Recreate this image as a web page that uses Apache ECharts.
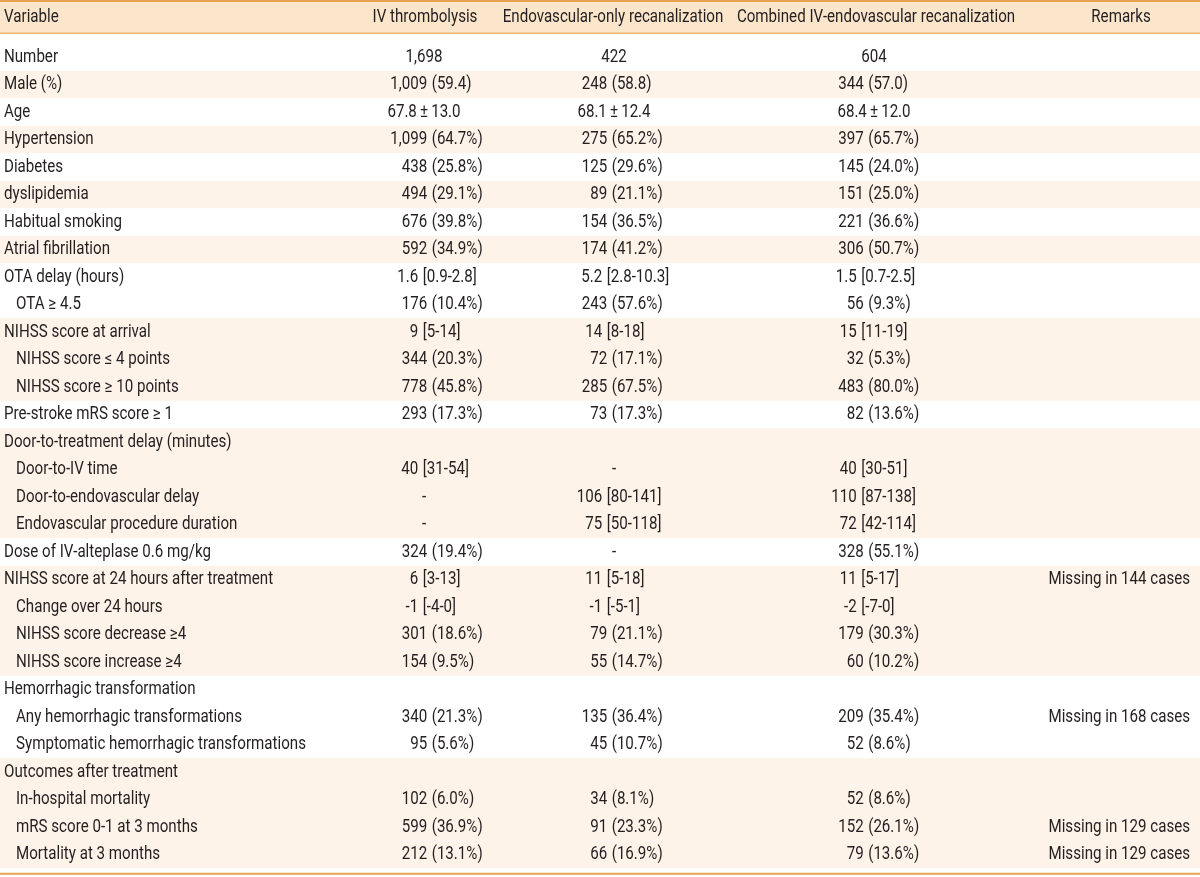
<!DOCTYPE html>
<html>
<head>
<meta charset="utf-8">
<script src="https://cdn.jsdelivr.net/npm/echarts@6/dist/echarts.min.js"></script>
<style>
html,body{margin:0;padding:0;background:#ffffff;}
#chart{width:1200px;height:877px;}
</style>
</head>
<body>
<div id="chart"></div>
<script>
// ---------- DATA ----------
const headers = ['Variable', 'IV thrombolysis', 'Endovascular-only recanalization', 'Combined IV-endovascular recanalization', 'Remarks'];

const variables = [
  'Number', 'Male (%)', 'Age', 'Hypertension', 'Diabetes', 'dyslipidemia',
  'Habitual smoking', 'Atrial fibrillation', 'OTA delay (hours)', 'OTA \u2265 4.5',
  'NIHSS score at arrival', 'NIHSS score \u2264 4 points', 'NIHSS score \u2265 10 points',
  'Pre-stroke mRS score \u2265 1', 'Door-to-treatment delay (minutes)', 'Door-to-IV time',
  'Door-to-endovascular delay', 'Endovascular procedure duration', 'Dose of IV-alteplase 0.6 mg/kg',
  'NIHSS score at 24 hours after treatment', 'Change over 24 hours', 'NIHSS score decrease \u22654',
  'NIHSS score increase \u22654', 'Hemorrhagic transformation', 'Any hemorrhagic transformations',
  'Symptomatic hemorrhagic transformations', 'Outcomes after treatment', 'In-hospital mortality',
  'mRS score 0-1 at 3 months', 'Mortality at 3 months'
];

const subItem = [
  0, 0, 0, 0, 0, 0, 0, 0, 0, 1,
  0, 1, 1, 0, 0, 1, 1, 1, 0, 0,
  1, 1, 1, 0, 1, 1, 0, 1, 1, 1
];

const ivValues = [
  '1,698', '1,009 (59.4)', '67.8\u2009\u00b1\u200913.0', '1,099 (64.7%)', '438 (25.8%)', '494 (29.1%)',
  '676 (39.8%)', '592 (34.9%)', '1.6 [0.9-2.8]', '176 (10.4%)',
  '9 [5-14]', '344 (20.3%)', '778 (45.8%)', '293 (17.3%)', '', '40 [31-54]',
  '-', '-', '324 (19.4%)', '6 [3-13]', '-1 [-4-0]', '301 (18.6%)',
  '154 (9.5%)', '', '340 (21.3%)', '95 (5.6%)', '', '102 (6.0%)',
  '599 (36.9%)', '212 (13.1%)'
];

const endoValues = [
  '422', '248 (58.8)', '68.1\u2009\u00b1\u200912.4', '275 (65.2%)', '125 (29.6%)', '89 (21.1%)',
  '154 (36.5%)', '174 (41.2%)', '5.2 [2.8-10.3]', '243 (57.6%)',
  '14 [8-18]', '72 (17.1%)', '285 (67.5%)', '73 (17.3%)', '', '-',
  '106 [80-141]', '75 [50-118]', '-', '11 [5-18]', '-1 [-5-1]', '79 (21.1%)',
  '55 (14.7%)', '', '135 (36.4%)', '45 (10.7%)', '', '34 (8.1%)',
  '91 (23.3%)', '66 (16.9%)'
];

const combinedValues = [
  '604', '344 (57.0)', '68.4\u2009\u00b1\u200912.0', '397 (65.7%)', '145 (24.0%)', '151 (25.0%)',
  '221 (36.6%)', '306 (50.7%)', '1.5 [0.7-2.5]', '56 (9.3%)',
  '15 [11-19]', '32 (5.3%)', '483 (80.0%)', '82 (13.6%)', '', '40 [30-51]',
  '110 [87-138]', '72 [42-114]', '328 (55.1%)', '11 [5-17]', '-2 [-7-0]', '179 (30.3%)',
  '60 (10.2%)', '', '209 (35.4%)', '52 (8.6%)', '', '52 (8.6%)',
  '152 (26.1%)', '79 (13.6%)'
];

const remarks = [
  '', '', '', '', '', '', '', '', '', '',
  '', '', '', '', '', '', '', '', '', 'Missing in 144 cases',
  '', '', '', '', 'Missing in 168 cases', '', '', '',
  'Missing in 129 cases', 'Missing in 129 cases'
];

// ---------- LAYOUT / STYLE ----------
const W = 1200, H = 877;
const ROW_H = 27.5, FIRST_Y = 57;
const HEADER_ROW = (17 - FIRST_Y) / ROW_H;
const FONT = 'Roboto, "Liberation Sans", sans-serif';
const FONT_WEIGHT = 400;
const FONT_SIZE = 18;
const SCALE_X = 0.84;
const TEXT_COLOR = '#231f20';
const SHADE = '#fdf3e9';
const HEADER_FILL = '#fbe5cb';
const ORANGE = '#e9a24f';
const X_VAR = 4, X_INDENT = 16;
const valueColumns = [
  { values: ivValues, paren: 429.5, bracket: 420.5, center: 424, header: 425 },
  { values: endoValues, paren: 609.5, bracket: 604.5, center: 614, header: 613 },
  { values: combinedValues, paren: 866, bracket: 859, center: 874, header: 876 }
];
const REMARK_RIGHT = 1190, REMARK_HEADER = 1121;
const GAP = 2.2;

// shading alternates per top-level group, starting unshaded
const shaded = [];
(function () {
  let g = -1;
  for (let i = 0; i < variables.length; i++) {
    if (!subItem[i]) g++;
    shaded.push(g % 2 === 1);
  }
})();

function txt(s, x, y, align) {
  return {
    type: 'text',
    x: x, y: y, scaleX: SCALE_X,
    style: {
      text: s, x: 0, y: 0, align: align, verticalAlign: 'middle',
      fill: TEXT_COLOR, fontSize: FONT_SIZE, fontFamily: FONT, fontWeight: FONT_WEIGHT
    }
  };
}

function cell(v, col, row, api) {
  if (!v) return [];
  const y = api.coord([0, row])[1];
  const m = v.match(/^(\S+)\s+([(\[].*)$/);
  if (m) {
    const anchor = m[2].charAt(0) === '(' ? col.paren : col.bracket;
    return [
      txt(m[1], api.coord([anchor - GAP, row])[0], y, 'right'),
      txt(m[2], api.coord([anchor + GAP, row])[0], y, 'left')
    ];
  }
  return [txt(v, api.coord([col.center, row])[0], y, 'center')];
}

function renderRow(params, api) {
  const i = api.value(1);
  const children = [];
  if (shaded[i]) {
    const a = api.coord([0, i - 0.5]);
    const b = api.coord([W, i + 0.5]);
    children.push({ type: 'rect', shape: { x: a[0], y: a[1], width: b[0] - a[0], height: b[1] - a[1] }, style: { fill: SHADE } });
  }
  const y = api.coord([0, i])[1];
  children.push(txt(variables[i], api.coord([subItem[i] ? X_INDENT : X_VAR, i])[0], y, 'left'));
  valueColumns.forEach(function (col) {
    cell(col.values[i], col, i, api).forEach(function (c) { children.push(c); });
  });
  if (remarks[i]) children.push(txt(remarks[i], api.coord([REMARK_RIGHT, i])[0], y, 'right'));
  if (i === variables.length - 1) {
    const e = api.coord([W, i + 0.5]);
    children.push({ type: 'rect', shape: { x: 0, y: e[1] + 4.5, width: e[0], height: 2 }, style: { fill: ORANGE } });
  }
  return { type: 'group', children: children };
}

function renderHeader(params, api) {
  const r = api.value(1);
  const c = api.coord([0, r]);
  const right = api.coord([W, r])[0];
  const y = c[1];
  const children = [
    { type: 'rect', shape: { x: 0, y: y - 17, width: right, height: 2 }, style: { fill: ORANGE } },
    { type: 'rect', shape: { x: 0, y: y - 15, width: right, height: 31 }, style: { fill: HEADER_FILL } },
    { type: 'rect', shape: { x: 0, y: y + 15.5, width: right, height: 1.5 }, style: { fill: '#efb570' } },
    txt(headers[0], api.coord([X_VAR, r])[0], y, 'left')
  ];
  valueColumns.forEach(function (col, k) {
    children.push(txt(headers[k + 1], api.coord([col.header, r])[0], y, 'center'));
  });
  children.push(txt(headers[4], api.coord([REMARK_HEADER, r])[0], y, 'center'));
  return { type: 'group', children: children };
}

const chart = echarts.init(document.getElementById('chart'), null, { renderer: 'canvas' });
chart.setOption({
  animation: false,
  backgroundColor: '#ffffff',
  grid: { left: 0, right: 0, top: 0, bottom: 0 },
  xAxis: { type: 'value', min: 0, max: W, show: false },
  yAxis: { type: 'value', inverse: true, min: -FIRST_Y / ROW_H, max: (H - FIRST_Y) / ROW_H, show: false },
  series: [
    {
      type: 'custom', name: 'header', silent: true,
      data: [[0, HEADER_ROW]],
      renderItem: renderHeader
    },
    {
      type: 'custom', name: 'rows', silent: true,
      data: variables.map(function (v, i) { return [0, i]; }),
      renderItem: renderRow
    }
  ]
});
</script>
</body>
</html>
